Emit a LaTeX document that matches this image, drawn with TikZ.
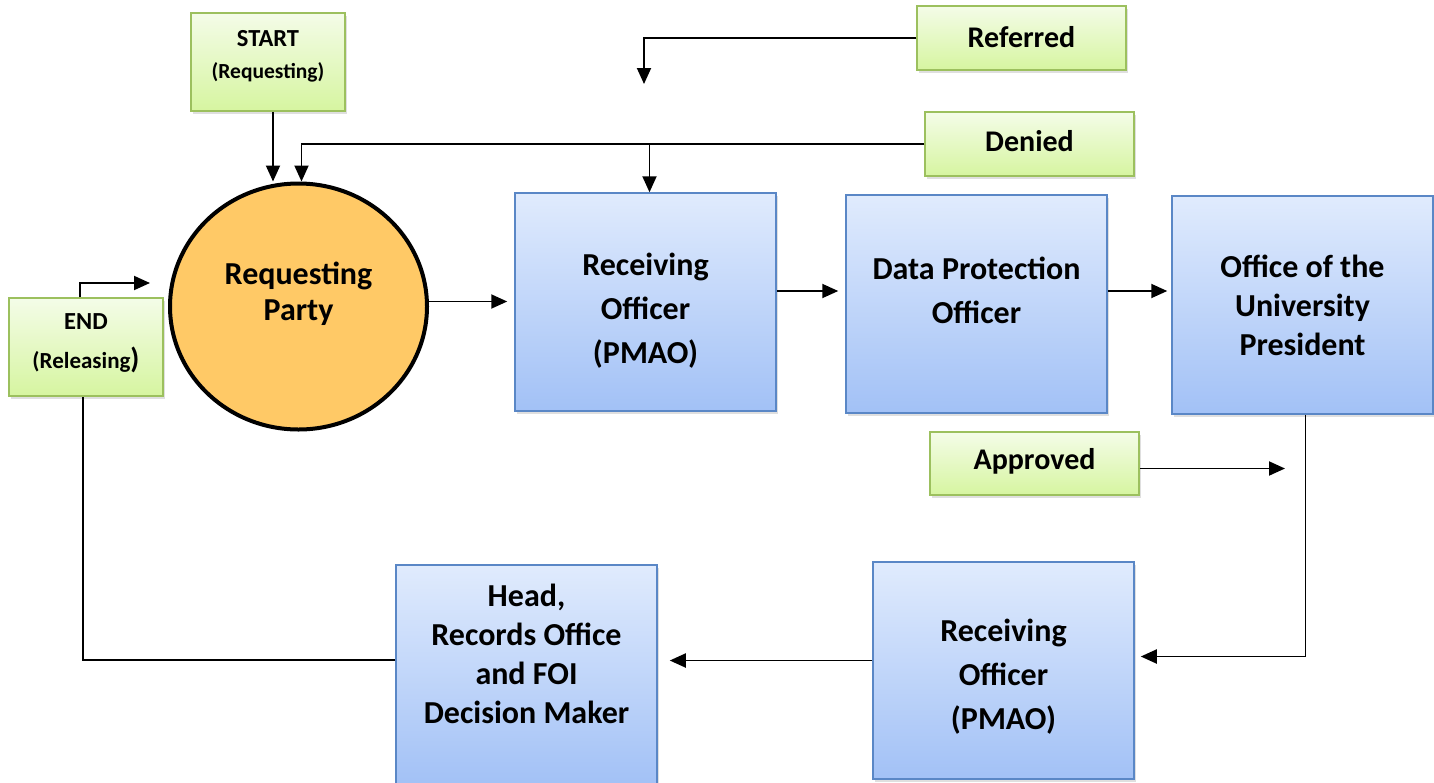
\documentclass[tikz,border=0pt]{standalone}
\usepackage{fontspec}
\setmainfont{Carlito}
\usetikzlibrary{arrows.meta,shapes.geometric,shadows}
\definecolor{bluetop}{HTML}{E0EBFD}
\definecolor{bluebot}{HTML}{A2C1F6}
\definecolor{blueedge}{HTML}{5A87C6}
\definecolor{greentop}{HTML}{F4FCE8}
\definecolor{greenbot}{HTML}{D6F5A0}
\definecolor{greenedge}{HTML}{9CC05E}
\definecolor{partyfill}{HTML}{FFC966}
\begin{document}
\begin{tikzpicture}[x=1pt,y=-1pt,
  boxshadow/.style={drop shadow={opacity=0.25,shadow xshift=2pt,shadow yshift=-3pt}},
  bluebox/.style={draw=blueedge,line width=1.5pt,top color=bluetop,bottom color=bluebot,
    minimum width=261pt,minimum height=218pt,inner sep=0pt,boxshadow},
  greenbox/.style={draw=greenedge,line width=1.5pt,top color=greentop,bottom color=greenbot,
    minimum width=209pt,minimum height=64pt,inner sep=0pt,boxshadow},
  smallgreen/.style={greenbox,minimum width=154pt,minimum height=98pt},
  bigtext/.style={font=\bfseries\fontsize{32}{44}\selectfont,align=center,inner sep=0pt},
  labtext/.style={font=\bfseries\fontsize{30}{34}\selectfont,align=center,inner sep=0pt},
  smalltext/.style={font=\bfseries\fontsize{21.5}{32}\selectfont,align=center,inner sep=0pt},
  conn/.style={line width=1.9pt,-{Triangle[length=16pt,width=14pt]}},
  plainline/.style={line width=1.9pt}
]
\useasboundingbox (0,0) rectangle (1434,782);

% green labels
\node[smallgreen,label={[smalltext,yshift=6pt]center:{{\fontsize{24.5}{32}\selectfont START}\\(Requesting)}}] (start) at (268,62) {};
\node[smallgreen,label={[smalltext,font=\bfseries\fontsize{23}{39}\selectfont,yshift=4pt]center:{{\fontsize{24.5}{39}\selectfont END}\\(Releasing{\fontsize{29}{39}\selectfont)}}}] (endn) at (86,347) {};
\node[greenbox,label={[labtext,yshift=1pt]center:{Referred}}] (referred) at (1021.5,38) {};
\node[greenbox,label={[labtext,yshift=3pt]center:{Denied}}] (denied) at (1029.5,144) {};
\node[greenbox,minimum height=63pt,label={[labtext,yshift=2pt]center:{Approved}}] (approved) at (1034.5,463.5) {};

% requesting party
\node[ellipse,draw=black,line width=4pt,fill=partyfill,minimum width=257pt,minimum height=246pt,inner sep=0pt,
  label={[bigtext,font=\bfseries\fontsize{32}{36}\selectfont,yshift=13pt]center:{Requesting\\Party}}] (party) at (298.5,306.5) {};

% blue boxes
\node[bluebox,label={[bigtext,yshift=-9pt]center:{Receiving\\Officer\\(PMAO)}}] (ro1) at (645.5,302) {};
\node[bluebox,label={[bigtext,yshift=14pt]center:{Data Protection\\Officer}}] (dpo) at (976.5,304) {};
\node[bluebox,label={[bigtext,font=\bfseries\fontsize{32}{39}\selectfont]center:{Office of the\\University\\President}}] (pres) at (1302.5,305) {};
\node[bluebox,minimum height=217pt,label={[bigtext,yshift=-6pt]center:{Receiving\\Officer\\(PMAO)}}] (ro2) at (1003.5,670.5) {};
\node[bluebox,minimum height=220pt,label={[bigtext,font=\bfseries\fontsize{32}{39}\selectfont,yshift=21pt]center:{Head,\\Records Office\\and FOI\\Decision Maker}}] (head) at (526.5,675) {};

% free ends
\coordinate (refend) at (644,84);
\coordinate (append) at (1285,468.5);
\coordinate (endarr) at (150,283);

% connectors
\draw[conn] ([xshift=5pt]start.south) -- ([xshift=5pt]start.south |- party.north);
\draw[conn] (denied.west) -| ([xshift=3pt]party.north);
\draw[conn] ([xshift=4pt]denied.west -| ro1.north) -- ([xshift=4pt]ro1.north);
\draw[conn] (referred.west) -| (refend);
\draw[conn,shorten >=7pt] ([yshift=5pt]party.east) -- ([yshift=5pt]party.east -| ro1.west);
\draw[conn,shorten >=7pt] ([yshift=11pt]ro1.east) -- ([yshift=11pt]ro1.east -| dpo.west);
\draw[conn,shorten >=4pt] ([yshift=13pt]dpo.east) -- ([yshift=13pt]dpo.east -| pres.west);
\draw[conn] ([yshift=-5pt]approved.east) -- (append);
\draw[conn,shorten >=6pt] ([xshift=3pt]pres.south) |- ([yshift=14pt]ro2.east);
\draw[conn,shorten >=12pt] ([yshift=10pt]ro2.west) -- ([yshift=10pt]ro2.west -| head.east);
\draw[plainline] ([yshift=15pt]head.west) -| ([xshift=-3pt]endn.south);
\draw[conn] ([xshift=-6pt]endn.north) |- (endarr);
\end{tikzpicture}
\end{document}
